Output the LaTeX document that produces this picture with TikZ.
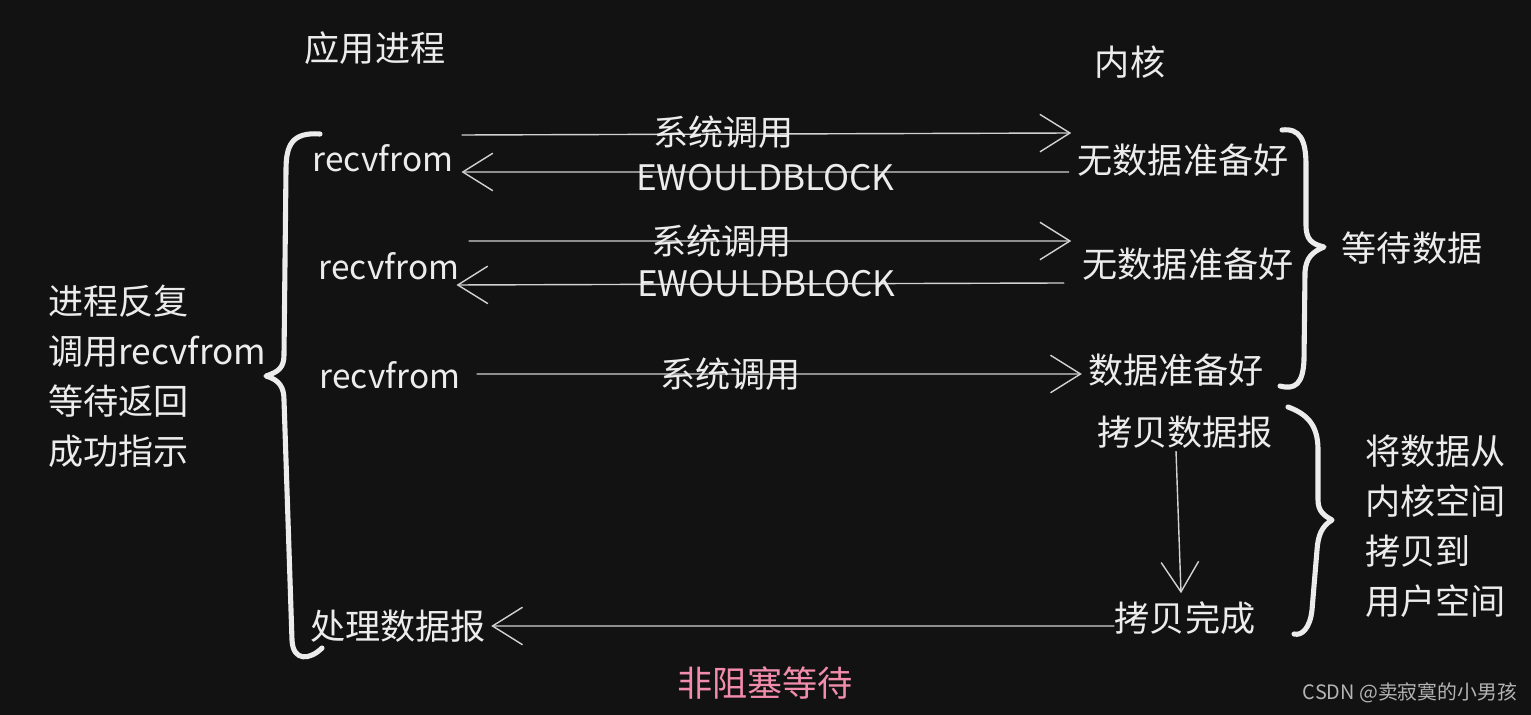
\documentclass[tikz,border=0pt]{standalone}
\usepackage{fontspec}
\setmainfont{Noto Sans CJK SC}
\usetikzlibrary{arrows.meta,calc}
\definecolor{bgdark}{HTML}{121212}
\definecolor{inkwhite}{HTML}{ECECEC}
\definecolor{inkgrey}{HTML}{D2D2D2}
\definecolor{notepink}{RGB}{242,140,172}
\definecolor{markgrey}{HTML}{B4B4B4}

\begin{document}
\begin{tikzpicture}[x=0.02cm, y=-0.02cm,
  txt/.style={inner sep=0pt, text=inkwhite, font=\fontsize{20}{28.4}\selectfont},
  rvtxt/.style={inner sep=0pt, text=inkwhite, font=\fontsize{19}{24}\selectfont},
  codetxt/.style={inner sep=0pt, text=inkwhite, font=\fontsize{20}{24}\selectfont},
  arrline/.style={draw=inkgrey, line width=0.8pt, -{Straight Barb[length=0.6cm, width=0.75cm, line width=0.8pt]}},
  bracestroke/.style={draw=inkwhite, line width=2.9pt, line cap=round, line join=round},
]
% canvas
\fill[bgdark] (0,0) rectangle (1531,715);
\useasboundingbox (0,0) rectangle (1531,715);

% column heads
\node[txt] (app) at (375,48) {应用进程};
\node[txt] (kern) at (1130,62) {内核};

% process side
\node[rvtxt] (rv1) at (383,158) {recvfrom};
\node[rvtxt] (rv2) at (389,266) {recvfrom};
\node[rvtxt] (rv3) at (390,375) {recvfrom};
\node[txt] (proc) at (398,626) {处理数据报};
\node[txt, align=left, anchor=west] (loopnote) at (48,376) {进程反复\\调用recvfrom\\等待返回\\成功指示};

% kernel side
\node[txt] (nd1) at (1183,160) {无数据准备好};
\node[txt] (nd2) at (1188,264) {无数据准备好};
\node[txt] (rdy) at (1176,370) {数据准备好};
\node[txt] (cp1) at (1185,432) {拷贝数据报};
\node[txt] (cp2) at (1185,618) {拷贝完成};
\node[txt] (waitnote) at (1412,248) {等待数据};
\node[txt, align=left, anchor=west] (copynote) at (1365,526) {将数据从\\内核空间\\拷贝到\\用户空间};

% round 1
\draw[arrline] ([xshift=0.16cm, yshift=0.46cm]rv1.east) -- ([xshift=-0.12cm, yshift=0.54cm]nd1.west)
  node[codetxt, pos=0.43, yshift=0.04cm] {系统调用};
\draw[arrline] ([xshift=-0.16cm, yshift=-0.24cm]nd1.west) -- ([xshift=0.16cm, yshift=-0.28cm]rv1.east)
  node[codetxt, midway, yshift=-0.12cm] {EWOULDBLOCK};

% round 2
\draw[arrline] ([xshift=0.18cm, yshift=0.5cm]rv2.east) -- ([xshift=-0.22cm, yshift=0.46cm]nd2.west)
  node[codetxt, pos=0.42] {系统调用};
\draw[arrline] ([xshift=-0.36cm, yshift=-0.38cm]nd2.west) -- ([xshift=-0.06cm, yshift=-0.38cm]rv2.east)
  node[codetxt, pos=0.49] {EWOULDBLOCK};

% round 3
\draw[arrline] ([xshift=0.32cm, yshift=0.02cm]rv3.east) -- ([xshift=-0.12cm, yshift=-0.08cm]rdy.west)
  node[codetxt, pos=0.42] {系统调用};

% copy
\draw[arrline] ([xshift=-0.18cm, yshift=-0.05cm]cp1.south) -- ([xshift=-0.08cm, yshift=0.16cm]cp2.north);
\draw[arrline] ([yshift=-0.16cm]cp2.west) -- ([xshift=0.1cm]proc.east);

% braces
\draw[bracestroke] (320,134) .. controls (292,132) and (286,145) .. (286,170) -- (284,355)
  .. controls (284,368) and (278,372) .. (266,376) .. controls (280,380) and (284,388) .. (284,400)
  -- (292,640) .. controls (293,662) and (310,660) .. (322,648);
\draw[bracestroke] (1282,130) .. controls (1300,128) and (1306,140) .. (1306,165) -- (1306,225)
  .. controls (1306,240) and (1312,244) .. (1324,247) .. controls (1312,252) and (1306,258) .. (1305,272)
  -- (1304,360) .. controls (1303,384) and (1295,390) .. (1280,386);
\draw[bracestroke] (1288,407) .. controls (1310,415) and (1318,428) .. (1318,450) -- (1318,500)
  .. controls (1318,512) and (1325,516) .. (1332,520) .. controls (1322,526) and (1318,535) .. (1317,550)
  -- (1312,610) .. controls (1310,628) and (1302,636) .. (1294,634);

% caption
\node[inner sep=0pt, text=notepink, font=\fontsize{20}{24}\selectfont] (title) at (765,683) {非阻塞等待};
\node[inner sep=0pt, text=markgrey, font=\fontsize{11.3}{14}\selectfont] (mark) at (1410,693) {CSDN @卖寂寞的小男孩};
\end{tikzpicture}
\end{document}
